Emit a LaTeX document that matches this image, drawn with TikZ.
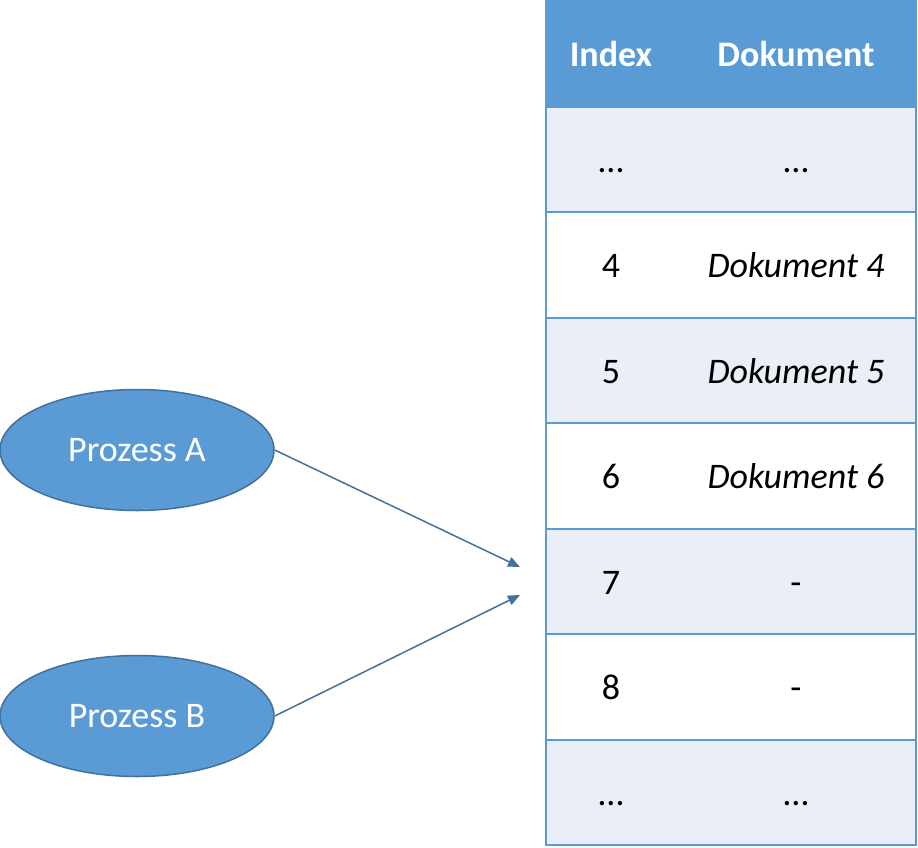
\documentclass[tikz,border=0pt]{standalone}
\usepackage{fontspec}
\setmainfont{Carlito}
\usetikzlibrary{shapes.geometric,arrows.meta,positioning}
\definecolor{hdblue}{HTML}{5B9BD5}
\definecolor{rowblue}{HTML}{E9EEF7}
\definecolor{edgeblue}{HTML}{41719C}

\begin{document}
\begin{tikzpicture}[x=0.5pt,y=-0.5pt,
    every node/.style={font=\fontsize{18}{22}\selectfont},
    rowbox/.style={draw=hdblue,line width=1pt,minimum width=185pt,minimum height=52.75pt,inner sep=0pt},
    celltext/.style={text height=13pt,text depth=0pt,inner sep=0pt},
    headtext/.style={celltext,text=white,font=\fontsize{18}{22}\selectfont\bfseries},
    proc/.style={ellipse,draw=edgeblue,fill=hdblue,line width=0.75pt,minimum width=137pt,minimum height=60.5pt,text=white},
    flow/.style={draw=edgeblue,line width=0.75pt,-{Triangle[length=6pt,width=5pt]}}]
    \useasboundingbox (0,0) rectangle (918,848);
    % table
    \node (row0) [rowbox,fill=hdblue] at (731,53.75) {};
    \node (idx0) [headtext] at (611,53.75) {Index};
    \node (doc0) [headtext] at (796,53.75) {Dokument};
    \foreach \i/\a/\b/\c in {1/…/…/rowblue,
                             2/4/\textit{Dokument 4}/white,
                             3/5/\textit{Dokument 5}/rowblue,
                             4/6/\textit{Dokument 6}/white,
                             5/7/-/rowblue,
                             6/8/-/white,
                             7/…/…/rowblue} {
        \node (row\i) [rowbox,fill=\c] at (731,53.75+105.5*\i) {};
        \node (idx\i) [celltext] at (611,53.75+105.5*\i) {\a};
        \node (doc\i) [celltext] at (796,53.75+105.5*\i) {\b};
    }
    % processes
    \node (pa) [proc] at (137,450) {Prozess A};
    \node (pb) [proc] at (137,716) {Prozess B};
    \coordinate (tipa) at (520,567);
    \coordinate (tipb) at (520,595);
    \draw [flow] (pa.east) -- (tipa);
    \draw [flow] (pb.east) -- (tipb);
\end{tikzpicture}
\end{document}
